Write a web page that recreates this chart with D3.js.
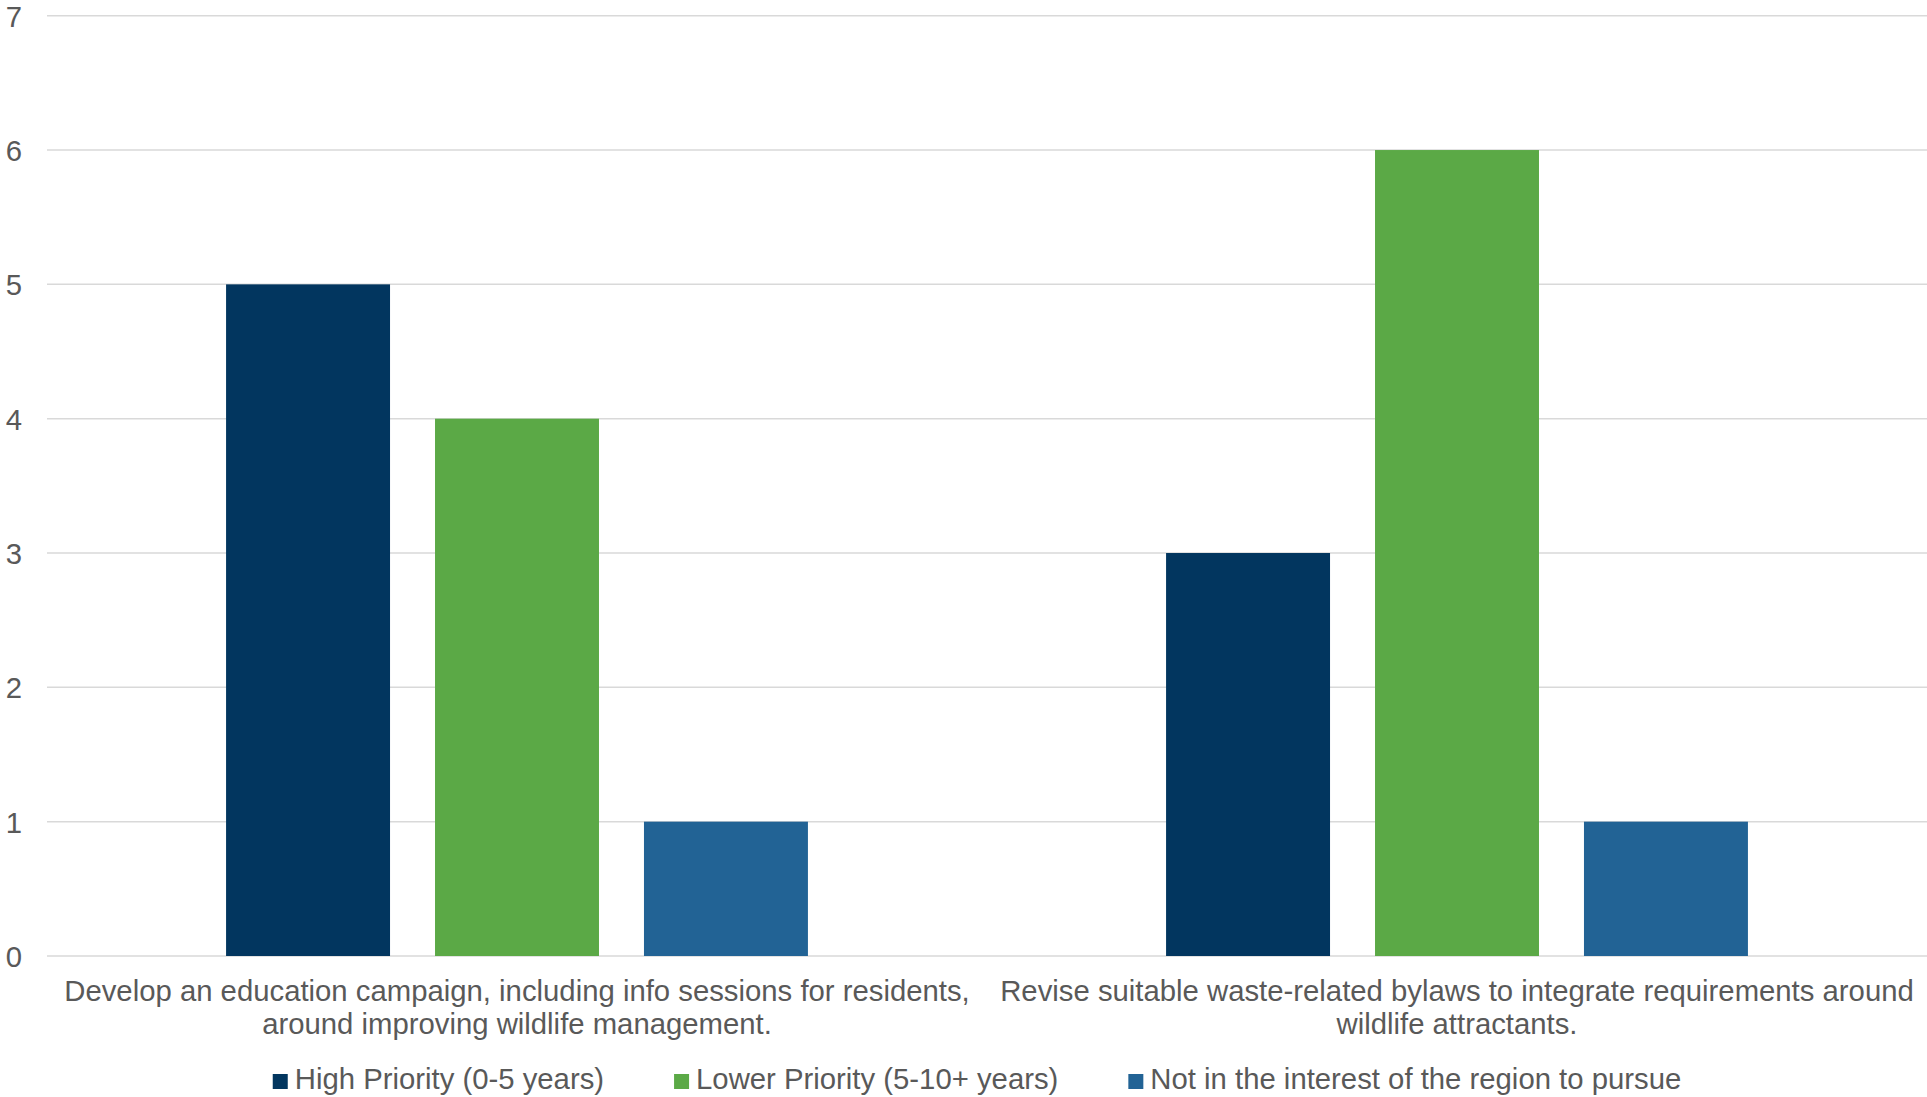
<!DOCTYPE html>
<html><head><meta charset="utf-8">
<script src="https://cdn.jsdelivr.net/npm/d3@7"></script>
<style>html,body{margin:0;padding:0;background:#fff;}svg{display:block;}</style>
</head><body>
<svg id="chart" width="1927" height="1097"></svg>
<script>
const categories = [
  ["Develop an education campaign, including info sessions for residents,", "around improving wildlife management."],
  ["Revise suitable waste-related bylaws to integrate requirements around", "wildlife attractants."]
];
const seriesNames = ["High Priority (0-5 years)", "Lower Priority (5-10+ years)", "Not in the interest of the region to pursue"];
const seriesColors = ["#02365f", "#5ba946", "#226395"];
const highPriority = [5, 3];
const lowerPriority = [4, 6];
const notInterest = [1, 1];
const yTicks = [0, 1, 2, 3, 4, 5, 6, 7];

const values = [highPriority, lowerPriority, notInterest];
const svg = d3.select("#chart");
const font = "'Liberation Sans', Arial, sans-serif";
const textColor = "#595959";
const fs = 29.3;
const plotLeft = 47, plotRight = 1927, plotTop = 15.7, plotBottom = 956;

const catIdx = categories.map((d, i) => i);
const x0 = d3.scaleBand().domain(catIdx).range([plotLeft, plotRight]).padding(0);
const x1 = d3.scaleBand().domain(d3.range(seriesNames.length)).range([0, x0.bandwidth()])
  .paddingInner(45 / 209).paddingOuter(0.857);
const y = d3.scaleLinear().domain([0, 7]).range([plotBottom, plotTop]);

// gridlines
svg.append("g").selectAll("line").data(yTicks).join("line")
  .attr("x1", plotLeft).attr("x2", plotRight)
  .attr("y1", d => y(d)).attr("y2", d => y(d))
  .attr("stroke", "#d9d9d9").attr("stroke-width", 1.5);

// y axis labels
const yAxis = d3.axisLeft(y).tickValues(yTicks).tickSize(0).tickPadding(0).tickFormat(d3.format("d"));
const yg = svg.append("g").attr("transform", `translate(22,0)`).call(yAxis);
yg.select(".domain").remove();
yg.selectAll("text").attr("font-family", font).attr("font-size", fs).attr("fill", textColor).attr("dy", "0.36em");

// bars
const groups = svg.append("g").selectAll("g").data(catIdx).join("g")
  .attr("transform", d => `translate(${x0(d)},0)`);
groups.selectAll("rect").data(ci => values.map((s, si) => ({si, v: s[ci]}))).join("rect")
  .attr("x", d => x1(d.si)).attr("width", x1.bandwidth())
  .attr("y", d => y(d.v)).attr("height", d => y(0) - y(d.v))
  .attr("fill", d => seriesColors[d.si]);

// category labels
const catG = svg.append("g");
categories.forEach((lines, i) => {
  const t = catG.append("text").attr("text-anchor", "middle")
    .attr("font-family", font).attr("font-size", fs).attr("fill", textColor);
  lines.forEach((ln, j) => {
    t.append("tspan").attr("x", x0(i) + x0.bandwidth() / 2).attr("y", 1001 + j * 33).text(ln);
  });
});

// legend
const leg = svg.append("g");
const items = leg.selectAll("g").data(seriesNames).join("g");
items.append("rect").attr("width", 15).attr("height", 15).attr("y", 1074).attr("fill", (d, i) => seriesColors[i]);
items.append("text").attr("x", 22).attr("y", 1089).attr("font-family", font).attr("font-size", fs)
  .attr("fill", textColor).text(d => d);
const gap = 70;
let widths = [];
items.each(function () { widths.push(22 + this.querySelector("text").getComputedTextLength()); });
const total = d3.sum(widths) + gap * (widths.length - 1);
let cx = 977 - total / 2;
items.each(function (d, i) { d3.select(this).attr("transform", `translate(${cx},0)`); cx += widths[i] + gap; });
</script>
</body></html>
